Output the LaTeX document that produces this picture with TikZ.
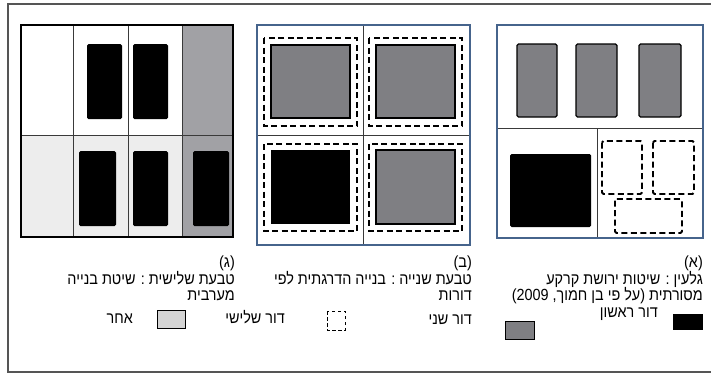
\documentclass[tikz,border=0pt]{standalone}
\usepackage{fontspec}
\usepackage{graphicx}
\setmainfont{Liberation Sans}
\newfontfamily\hebfont[Script=Hebrew]{Liberation Sans}
\TeXXeTstate=1
\newcommand{\tallheb}[1]{\scalebox{1}[1.12]{\hebfont\fontsize{14.4}{16}\selectfont\beginR #1\endR}}
\definecolor{frameC}{HTML}{555555}
\definecolor{panelblue}{HTML}{46648C}
\definecolor{midgray}{HTML}{7F7F83}
\definecolor{colgray}{HTML}{A1A1A5}
\definecolor{lightg}{HTML}{EDEDED}
\definecolor{legendg}{HTML}{D4D4D4}
\definecolor{gridC}{HTML}{3A3A3A}
\begin{document}
\begin{tikzpicture}[x=1pt,y=-1pt,
  heb/.style={inner sep=0pt, anchor=base east},
  panelbox/.style={draw=panelblue, line width=1.3pt},
  gridline/.style={draw=gridC, line width=0.8pt},
  dashbox/.style={draw=black, line width=1.9pt, dash pattern=on 6pt off 3.5pt},
  graybox/.style={fill=midgray, draw=black, line width=1.6pt},
  blackbox/.style={fill=black, rounded corners=1.5pt}]
\useasboundingbox (0,0) rectangle (711,373);
\fill[white] (0,0) rectangle (711,373);
% outer frame
\draw[frameC, line width=1.4pt] (711,4) -- (8,4) -- (8,372) -- (711,372);

% ---------- panel G (left) ----------
\fill[colgray] (182,25) rectangle (233,237);
\fill[lightg] (21,135) rectangle (182,237);
\draw[gridline] (73,25) -- (73,237);
\draw[gridline] (128,25) -- (128,237);
\draw[gridline] (182,25) -- (182,237);
\draw[gridline] (21,135) -- (233,135);
\draw[line width=2pt] (21,25) rectangle (233,237);
\fill[blackbox] (87,44) rectangle (122,119);
\fill[blackbox] (133,44) rectangle (168,119);
\fill[blackbox] (79,151) rectangle (116,226);
\fill[blackbox] (133,151) rectangle (168,226);
\fill[blackbox] (193,151) rectangle (229,226);

% ---------- panel B (middle) ----------
\draw[gridline] (363,25) -- (363,245);
\draw[gridline] (257,135) -- (470,135);
\draw[panelbox] (257,25) rectangle (470,245);
\draw[dashbox] (264,38) rectangle (357,126);
\draw[dashbox] (369,38) rectangle (462,126);
\draw[dashbox] (264,144) rectangle (357,231);
\draw[dashbox] (369,144) rectangle (462,231);
\draw[graybox] (271,45) rectangle (350,118);
\draw[graybox] (376,45) rectangle (455,118);
\fill[black] (271,150) rectangle (350,224);
\draw[graybox] (376,150) rectangle (455,224);

% ---------- panel A (right) ----------
\draw[gridline] (497,128) -- (703,128);
\draw[gridline] (597,128) -- (597,238);
\draw[panelbox] (497,25) rectangle (703,238);
\draw[graybox, line width=1.3pt, rounded corners=1.5pt] (517,44) rectangle (557,117);
\draw[graybox, line width=1.3pt, rounded corners=1.5pt] (576,44) rectangle (617,117);
\draw[graybox, line width=1.3pt, rounded corners=1.5pt] (639,44) rectangle (681,117);
\fill[blackbox] (510,154) rectangle (591,227);
\draw[dashbox, rounded corners=1.5pt] (602,141) rectangle (642,194);
\draw[dashbox, rounded corners=1.5pt] (653,141) rectangle (694,194);
\draw[dashbox, rounded corners=1.5pt] (615,199) rectangle (682,233);

% ---------- captions ----------
\node[heb] (a1) at (703,267) {\tallheb{(א)}};
\node[heb] (a2) at (703,284) {\tallheb{גלעין : שיטות ירושת קרקע}};
\node[heb] (a3) at (703,300) {\tallheb{מסורתית (על פי בן חמוך, \beginL2009\endL)}};
\node[heb] (b1) at (472,267) {\tallheb{(ב)}};
\node[heb] (b2) at (472,284) {\tallheb{טבעת שנייה : בנייה הדרגתית לפי}};
\node[heb] (b3) at (472,300) {\tallheb{דורות}};
\node[heb] (g1) at (235,267) {\tallheb{(ג)}};
\node[heb] (g2) at (235,284) {\tallheb{טבעת שלישית : שיטת בנייה}};
\node[heb] (g3) at (235,300) {\tallheb{מערבית}};

% ---------- legend ----------
\fill[black] (673,314) rectangle (703,330);
\node[heb] (l1) at (658,317) {\tallheb{דור ראשון}};
\draw[fill=midgray, draw=black, line width=1pt] (505,321) rectangle (534,339);
\node[heb] (l2) at (472,324) {\tallheb{דור שני}};
\draw[black, line width=1pt, dash pattern=on 3.5pt off 2.5pt] (327,311) rectangle (345,330);
\node[heb] (l3) at (285,323) {\tallheb{דור שלישי}};
\draw[fill=legendg, draw=black, line width=1pt] (157,310) rectangle (185,328);
\node[heb] (l4) at (133,323) {\tallheb{אחר}};
\end{tikzpicture}
\end{document}
